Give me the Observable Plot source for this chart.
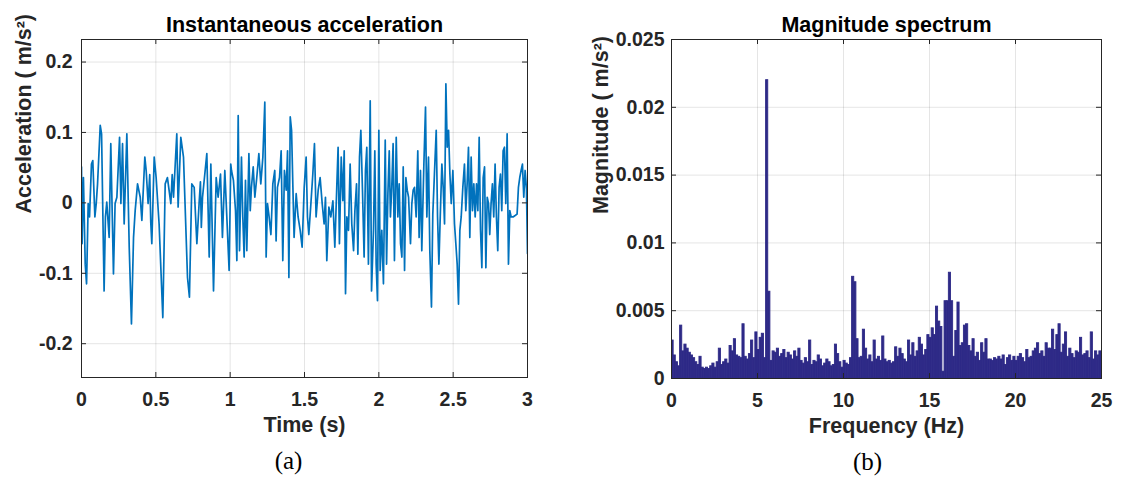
<!DOCTYPE html>
<html>
<head>
<meta charset="utf-8">
<script src="https://cdn.jsdelivr.net/npm/d3@7"></script>
<script src="https://cdn.jsdelivr.net/npm/@observablehq/plot@0.6"></script>
<style>
  html, body { margin: 0; padding: 0; background: #fff; }
  #wrap { display: flex; width: 1122px; height: 479px; overflow: hidden; }
  #wrap svg { display: block; flex: none; }
</style>
</head>
<body>
<div id="wrap"></div>
<script>
// ---------- DATA ----------
// Instantaneous acceleration: [time (s), acceleration (m/s^2)]
const accelSamples = [
  [0.000, 0.051], [0.004, -0.058], [0.013, 0.036], [0.025, -0.087], [0.034, -0.115],
  [0.045, -0.001], [0.054, -0.020], [0.067, 0.055], [0.076, 0.060], [0.090, -0.020],
  [0.099, -0.001], [0.108, 0.027], [0.126, 0.110], [0.135, 0.098], [0.152, -0.125],
  [0.161, -0.020], [0.170, 0.001], [0.186, -0.049], [0.197, 0.084], [0.215, -0.101],
  [0.226, -0.001], [0.238, 0.008], [0.256, 0.093], [0.265, -0.001], [0.276, 0.084],
  [0.287, -0.030], [0.305, 0.098], [0.321, -0.063], [0.336, -0.172], [0.350, -0.049],
  [0.361, -0.011], [0.377, 0.027], [0.395, 0.008], [0.406, -0.025], [0.426, 0.065],
  [0.435, 0.046], [0.448, -0.001], [0.459, 0.040], [0.466, -0.028], [0.473, -0.058],
  [0.489, 0.065], [0.502, 0.036], [0.522, -0.030], [0.547, -0.163], [0.563, 0.027],
  [0.578, 0.036], [0.601, -0.001], [0.610, 0.040], [0.619, 0.008], [0.641, 0.098],
  [0.650, -0.006], [0.668, 0.093], [0.686, 0.065], [0.713, -0.106], [0.726, -0.134],
  [0.742, 0.027], [0.758, 0.022], [0.776, -0.058], [0.791, -0.001], [0.800, 0.030],
  [0.806, -0.035], [0.814, 0.008], [0.843, 0.070], [0.859, -0.077], [0.870, 0.055],
  [0.888, -0.125], [0.906, 0.036], [0.919, 0.008], [0.935, 0.041], [0.948, -0.049],
  [0.964, 0.046], [0.993, -0.096], [1.004, 0.055],
  [1.009, 0.046], [1.022, 0.032], [1.036, -0.011], [1.045, -0.082], [1.054, 0.124],
  [1.063, -0.068], [1.076, 0.065], [1.085, -0.020], [1.094, -0.077], [1.103, 0.032],
  [1.112, -0.068], [1.126, 0.070], [1.135, -0.011], [1.143, 0.022], [1.155, 0.051],
  [1.166, 0.008], [1.179, 0.036], [1.193, 0.070], [1.206, 0.027], [1.220, 0.065],
  [1.233, 0.143], [1.242, -0.077], [1.251, -0.001], [1.262, -0.020], [1.274, -0.045],
  [1.287, 0.027], [1.300, 0.046], [1.309, -0.054], [1.318, 0.022], [1.332, 0.036],
  [1.343, 0.074], [1.354, -0.082], [1.365, 0.046], [1.377, 0.018], [1.386, 0.074],
  [1.395, -0.106], [1.404, 0.122], [1.413, 0.103], [1.422, 0.022], [1.430, -0.049],
  [1.444, 0.013], [1.457, -0.020], [1.471, -0.039], [1.484, -0.063], [1.498, 0.022],
  [1.511, 0.065], [1.520, -0.020], [1.529, -0.045], [1.543, -0.001], [1.556, 0.041],
  [1.567, 0.084], [1.578, -0.020], [1.592, 0.018], [1.605, 0.036], [1.619, -0.001],
  [1.632, -0.030], [1.641, 0.008], [1.650, -0.082], [1.664, -0.006], [1.677, -0.020],
  [1.691, 0.003], [1.704, -0.063], [1.717, 0.022], [1.726, 0.079], [1.735, -0.058],
  [1.747, 0.065], [1.758, 0.003], [1.767, 0.074], [1.776, -0.129], [1.785, -0.020],
  [1.796, -0.039], [1.807, 0.055], [1.818, -0.030], [1.830, -0.068], [1.839, -0.011],
  [1.850, 0.027], [1.859, -0.073], [1.870, 0.065], [1.879, 0.103], [1.890, 0.018],
  [1.901, -0.077], [1.910, 0.046], [1.919, 0.079], [1.930, -0.087], [1.942, 0.145],
  [1.951, -0.125], [1.964, -0.039], [1.973, 0.074], [1.982, -0.087], [1.991, -0.139],
  [2.000, 0.103], [2.009, -0.096], [2.020, -0.039], [2.031, -0.115],
  [2.043, 0.089], [2.052, -0.087], [2.061, 0.013], [2.070, 0.074], [2.078, -0.020],
  [2.087, 0.022], [2.096, 0.084], [2.105, -0.082], [2.117, 0.093], [2.128, -0.020],
  [2.137, 0.027], [2.146, -0.058], [2.155, -0.077], [2.164, 0.051], [2.173, -0.096],
  [2.182, 0.036], [2.191, 0.018], [2.200, 0.008], [2.213, -0.058], [2.222, -0.001],
  [2.231, 0.018], [2.240, 0.022], [2.251, -0.020], [2.262, 0.074], [2.271, -0.049],
  [2.280, 0.046], [2.289, -0.068], [2.303, 0.055], [2.314, 0.136], [2.323, -0.020],
  [2.334, 0.065], [2.343, -0.068], [2.354, -0.148], [2.363, -0.016], [2.374, 0.041],
  [2.386, 0.103], [2.395, -0.020], [2.404, -0.087], [2.413, -0.020], [2.424, 0.055],
  [2.433, 0.022], [2.442, -0.030], [2.451, 0.169], [2.460, 0.079], [2.469, 0.103],
  [2.478, 0.041], [2.487, -0.001], [2.498, 0.046], [2.509, -0.030], [2.518, -0.058],
  [2.527, -0.087], [2.536, -0.144], [2.545, -0.039], [2.554, -0.020], [2.565, 0.022],
  [2.576, 0.055], [2.585, -0.011], [2.594, 0.027], [2.603, 0.079], [2.612, -0.049],
  [2.621, 0.065], [2.630, -0.011], [2.639, 0.027], [2.648, -0.020], [2.657, 0.027],
  [2.666, -0.011], [2.675, 0.093], [2.684, -0.039], [2.693, -0.092], [2.702, 0.036],
  [2.711, 0.051], [2.720, -0.092], [2.729, 0.008], [2.738, -0.001], [2.746, -0.045],
  [2.755, -0.001], [2.764, 0.027], [2.773, -0.020], [2.782, 0.055], [2.791, -0.020],
  [2.800, -0.068], [2.809, 0.022], [2.818, 0.041], [2.827, -0.011], [2.836, 0.074],
  [2.845, 0.079], [2.854, -0.001], [2.863, 0.098], [2.872, -0.087], [2.881, -0.011],
  [2.890, -0.020], [2.903, -0.020], [2.917, -0.018], [2.930, -0.016], [2.939, 0.022],
  [2.948, 0.036], [2.957, 0.046], [2.966, 0.055], [2.975, 0.008], [2.984, 0.046],
  [2.993, 0.020], [3.000, -0.072]
];

// Magnitude spectrum: bins of 0.125 Hz starting at 0 Hz (m/s^2)
const freqStep = 0.125;
const magnitude = [
  0.0028, 0.0017, 0.0012, 0.0009, 0.0039, 0.0020, 0.0025, 0.0022,
  0.0019, 0.0017, 0.0015, 0.0012, 0.0010, 0.0016, 0.0008, 0.0007,
  0.0008, 0.0007, 0.0009, 0.0011, 0.0008, 0.0012, 0.0022, 0.0010,
  0.0012, 0.0014, 0.0011, 0.0024, 0.0020, 0.0029, 0.0017, 0.0016,
  0.0015, 0.0040, 0.0016, 0.0014, 0.0018, 0.0028, 0.0015, 0.0034,
  0.0021, 0.0030, 0.0033, 0.0015, 0.0220, 0.0064, 0.0013, 0.0020,
  0.0019, 0.0022, 0.0016, 0.0018, 0.0021, 0.0015, 0.0019, 0.0017,
  0.0014, 0.0020, 0.0016, 0.0022, 0.0013, 0.0011, 0.0015, 0.0012,
  0.0028, 0.0010, 0.0013, 0.0012, 0.0017, 0.0014, 0.0009, 0.0011,
  0.0014, 0.0012, 0.0009, 0.0010, 0.0025, 0.0018, 0.0012, 0.0008,
  0.0013, 0.0011, 0.0010, 0.0015, 0.0075, 0.0071, 0.0029, 0.0015,
  0.0016, 0.0036, 0.0022, 0.0014, 0.0017, 0.0012, 0.0028, 0.0014,
  0.0016, 0.0013, 0.0031, 0.0014, 0.0012, 0.0013, 0.0011, 0.0012,
  0.0023, 0.0016, 0.0022, 0.0018, 0.0014, 0.0012, 0.0028, 0.0017,
  0.0026, 0.0016, 0.0020, 0.0030, 0.0025, 0.0017, 0.0021, 0.0032,
  0.0030, 0.0037, 0.0032, 0.0053, 0.0042, 0.0038, 0.0005, 0.0057,
  0.0057, 0.0078, 0.0057, 0.0016, 0.0035, 0.0056, 0.0024, 0.0026,
  0.0039, 0.0040, 0.0024, 0.0020, 0.0029, 0.0016, 0.0019, 0.0013,
  0.0026, 0.0019, 0.0029, 0.0014, 0.0014, 0.0013, 0.0015, 0.0014,
  0.0016, 0.0014, 0.0017, 0.0010, 0.0015, 0.0017, 0.0013, 0.0016,
  0.0013, 0.0016, 0.0018, 0.0015, 0.0012, 0.0021, 0.0015, 0.0016,
  0.0020, 0.0022, 0.0026, 0.0018, 0.0020, 0.0016, 0.0026, 0.0022,
  0.0022, 0.0036, 0.0021, 0.0032, 0.0040, 0.0019, 0.0025, 0.0034,
  0.0016, 0.0022, 0.0018, 0.0015, 0.0020, 0.0019, 0.0030, 0.0017,
  0.0018, 0.0020, 0.0015, 0.0034, 0.0014, 0.0020, 0.0017, 0.0020
];

const timeTicks = [0, 0.5, 1, 1.5, 2, 2.5, 3];
const accelTicks = [-0.2, -0.1, 0, 0.1, 0.2];
const freqTicks = [0, 5, 10, 15, 20, 25];
const magTicks = [0, 0.005, 0.01, 0.015, 0.02, 0.025];

const titles = ["Instantaneous acceleration", "Magnitude spectrum"];
const xLabels = ["Time (s)", "Frequency (Hz)"];
const yLabels = ["Acceleration ( m/s\u00B2)", "Magnitude ( m/s\u00B2)"];
const captions = ["(a)", "(b)"];

// ---------- DRAWING ----------
const SANS = "'Liberation Sans', Arial, Helvetica, sans-serif";
const SERIF = "'Liberation Serif', 'Times New Roman', serif";
const INK = "#262626";
const fmt = d => String(d);

function panel(o) {
  const W = 561, H = 479;
  const plotW = W - o.ml - o.mr, plotH = H - o.mt - o.mb;
  const [x0, x1] = o.xDomain, [y0, y1] = o.yDomain;
  const lx = (x1 - x0) * 5 / plotW;  // 5px inward tick in data units
  const ly = (y1 - y0) * 5 / plotH;
  return Plot.plot({
    width: W, height: H,
    marginLeft: o.ml, marginRight: o.mr, marginTop: o.mt, marginBottom: o.mb,
    x: {domain: o.xDomain},
    y: {domain: o.yDomain},
    style: `font-family: ${SANS}; font-weight: bold; color: ${INK}; background: #fff; overflow: visible;`,
    marks: [
      Plot.gridX(o.xTicks, {stroke: INK, strokeOpacity: 0.12}),
      Plot.gridY(o.yTicks, {stroke: INK, strokeOpacity: 0.12}),
      ...o.dataMarks,
      Plot.ruleX(o.xTicks, {x: d => d, y1: y0, y2: y0 + ly, stroke: INK}),
      Plot.ruleX(o.xTicks, {x: d => d, y1: y1, y2: y1 - ly, stroke: INK}),
      Plot.ruleY(o.yTicks, {y: d => d, x1: x0, x2: x0 + lx, stroke: INK}),
      Plot.ruleY(o.yTicks, {y: d => d, x1: x1, x2: x1 - lx, stroke: INK}),
      Plot.frame({stroke: INK, strokeWidth: 1}),
      Plot.axisX(o.xTicks, {tickSize: 0, tickPadding: 15, tickFormat: fmt, fontSize: 19.5, label: null}),
      Plot.axisY(o.yTicks, {tickSize: 0, tickPadding: o.yPad, tickFormat: fmt, fontSize: 19.5, label: null}),
      Plot.text([o.title], {text: d => d, frameAnchor: "top", dy: -14, fontSize: 21.5, lineAnchor: "middle", fill: "#000"}),
      Plot.text([o.xLabel], {text: d => d, frameAnchor: "bottom", dy: 48, fontSize: 21.5, lineAnchor: "middle", fill: INK}),
      Plot.text([o.yLabel], {text: d => d, frameAnchor: "left", rotate: -90, dx: o.yLabelDx, dy: 5, fontSize: 21.5, lineAnchor: "middle", fill: INK}),
      Plot.text([o.caption], {text: d => d, frameAnchor: "bottom", dx: o.capDx, dy: 83, fontSize: 25, fontFamily: SERIF, fontWeight: "normal", lineAnchor: "middle", fill: "#000"})
    ]
  });
}

const left = panel({
  ml: 81, mr: 34, mt: 39, mb: 102,
  xDomain: [0, 3], yDomain: [-0.248, 0.232],
  xTicks: timeTicks, yTicks: accelTicks, yPad: 9,
  dataMarks: [
    Plot.line(accelSamples, {x: d => d[0], y: d => d[1], stroke: "#0072BD", strokeWidth: 1.7, clip: true})
  ],
  title: titles[0], xLabel: xLabels[0], yLabel: yLabels[0], caption: captions[0],
  yLabelDx: -57, capDx: -16
});

const right = panel({
  ml: 110, mr: 21, mt: 39, mb: 101,
  xDomain: [0, 25], yDomain: [0, 0.025],
  xTicks: freqTicks, yTicks: magTicks, yPad: 7,
  dataMarks: [
    Plot.rectY(magnitude, {
      x1: (d, i) => i * freqStep, x2: (d, i) => (i + 1) * freqStep,
      y1: 0, y2: d => d,
      fill: "#2e2a87", stroke: "#2e2a87", strokeWidth: 0.9, clip: true
    })
  ],
  title: titles[1], xLabel: xLabels[1], yLabel: yLabels[1], caption: captions[1],
  yLabelDx: -70, capDx: -19
});

const wrap = document.getElementById("wrap");
wrap.appendChild(left);
wrap.appendChild(right);
</script>
</body>
</html>
